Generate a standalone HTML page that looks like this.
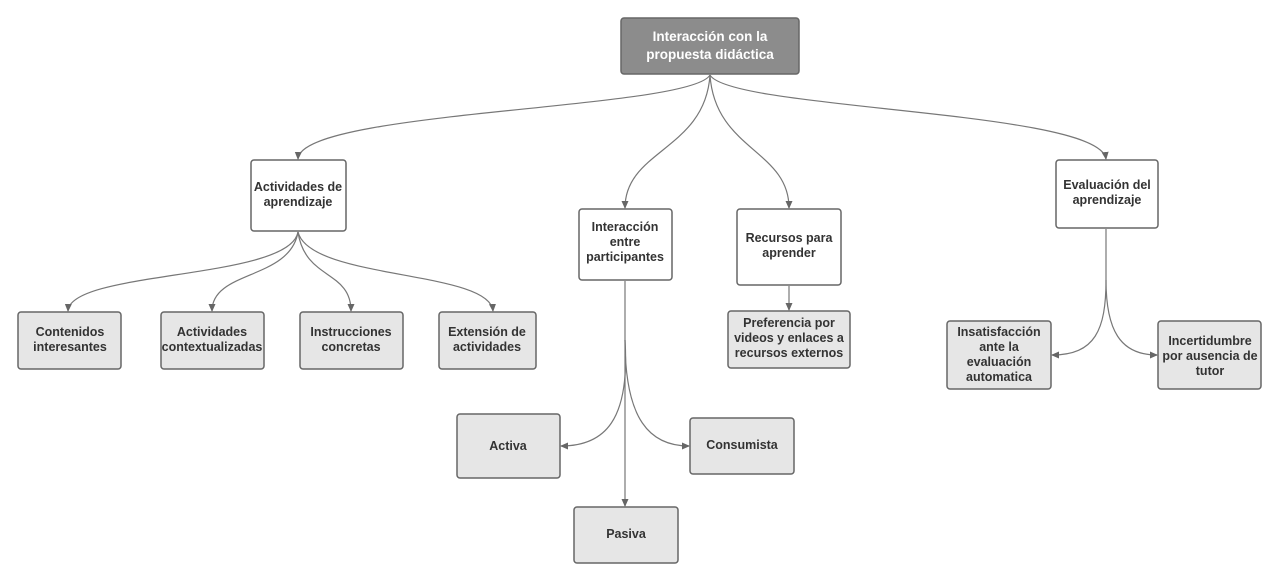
<!DOCTYPE html>
<html><head><meta charset="utf-8"><style>
html,body{margin:0;padding:0;background:#fff;}
svg{display:block;}
text{font-family:"Liberation Sans",Arial,sans-serif;font-weight:bold;font-size:12.5px;fill:#333;text-anchor:middle;}
.w{fill:#fff;stroke:#666;stroke-width:1.5;}
.g{fill:#e6e6e6;stroke:#666;stroke-width:1.5;}
.c{fill:none;stroke:#777;stroke-width:1.2;}
</style></head><body>
<svg width="1280" height="582" viewBox="0 0 1280 582" xmlns="http://www.w3.org/2000/svg">
<defs><marker id="a" markerWidth="8" markerHeight="8" refX="7" refY="4" orient="auto" markerUnits="userSpaceOnUse"><path d="M0,0.5 L8,4 L0,7.5 Z" fill="#666"/></marker></defs>

<!-- connectors -->
<path class="c" marker-end="url(#a)" d="M710,75 C690,110 300,110 298,159"/>
<path class="c" marker-end="url(#a)" d="M710,75 C705,150 625,150 625,208"/>
<path class="c" marker-end="url(#a)" d="M710,75 C715,150 789,150 789,208"/>
<path class="c" marker-end="url(#a)" d="M710,75 C730,110 1100,110 1106,159"/>

<path class="c" marker-end="url(#a)" d="M298,232 C290,280 70,270 68,311"/>
<path class="c" marker-end="url(#a)" d="M298,232 C290,280 212,270 212,311"/>
<path class="c" marker-end="url(#a)" d="M298,232 C305,280 351,270 351,311"/>
<path class="c" marker-end="url(#a)" d="M298,232 C310,280 490,270 493,311"/>

<path class="c" marker-end="url(#a)" d="M625,281 L625,506"/>
<path class="c" marker-end="url(#a)" d="M625,340 C630,420 605,446 561,446"/>
<path class="c" marker-end="url(#a)" d="M625,340 C625,420 650,446 689,446"/>

<path class="c" marker-end="url(#a)" d="M789,286 L789,310"/>

<path class="c" marker-end="url(#a)" d="M1106,229 L1106,280 C1106,330 1095,355 1052,355"/>
<path class="c" d="M1106,280 C1106,330 1120,355 1157,355"/>
<path class="c" marker-end="url(#a)" d="M1150,355 L1157,355"/>

<!-- nodes -->
<rect x="621" y="18" width="178" height="56" rx="3" fill="#8c8c8c" stroke="#666" stroke-width="1.5"/>
<text x="710" y="41" style="fill:#fff;font-size:13.5px">Interacción con la</text>
<text x="710" y="59" style="fill:#fff;font-size:13.5px">propuesta didáctica</text>

<rect class="w" x="251" y="160" width="95" height="71" rx="3"/>
<text x="298" y="191">Actividades de</text><text x="298" y="206">aprendizaje</text>

<rect class="w" x="579" y="209" width="93" height="71" rx="3"/>
<text x="625" y="231">Interacción</text><text x="625" y="246">entre</text><text x="625" y="261">participantes</text>

<rect class="w" x="737" y="209" width="104" height="76" rx="3"/>
<text x="789" y="242">Recursos para</text><text x="789" y="257">aprender</text>

<rect class="w" x="1056" y="160" width="102" height="68" rx="3"/>
<text x="1107" y="189">Evaluación del</text><text x="1107" y="204">aprendizaje</text>

<rect class="g" x="18" y="312" width="103" height="57" rx="3"/>
<text x="70" y="336">Contenidos</text><text x="70" y="351">interesantes</text>
<rect class="g" x="161" y="312" width="103" height="57" rx="3"/>
<text x="212" y="336">Actividades</text><text x="212" y="351">contextualizadas</text>
<rect class="g" x="300" y="312" width="103" height="57" rx="3"/>
<text x="351" y="336">Instrucciones</text><text x="351" y="351">concretas</text>
<rect class="g" x="439" y="312" width="97" height="57" rx="3"/>
<text x="487" y="336">Extensión de</text><text x="487" y="351">actividades</text>

<rect class="g" x="728" y="311" width="122" height="57" rx="3"/>
<text x="789" y="327">Preferencia por</text><text x="789" y="342">videos y enlaces a</text><text x="789" y="357">recursos externos</text>

<rect class="g" x="457" y="414" width="103" height="64" rx="3"/>
<text x="508" y="450">Activa</text>
<rect class="g" x="690" y="418" width="104" height="56" rx="3"/>
<text x="742" y="449">Consumista</text>
<rect class="g" x="574" y="507" width="104" height="56" rx="3"/>
<text x="626" y="538">Pasiva</text>

<rect class="g" x="947" y="321" width="104" height="68" rx="3"/>
<text x="999" y="336">Insatisfacción</text><text x="999" y="351">ante la</text><text x="999" y="366">evaluación</text><text x="999" y="381">automatica</text>
<rect class="g" x="1158" y="321" width="103" height="68" rx="3"/>
<text x="1210" y="345">Incertidumbre</text><text x="1210" y="360">por ausencia de</text><text x="1210" y="375">tutor</text>
</svg>
</body></html>
